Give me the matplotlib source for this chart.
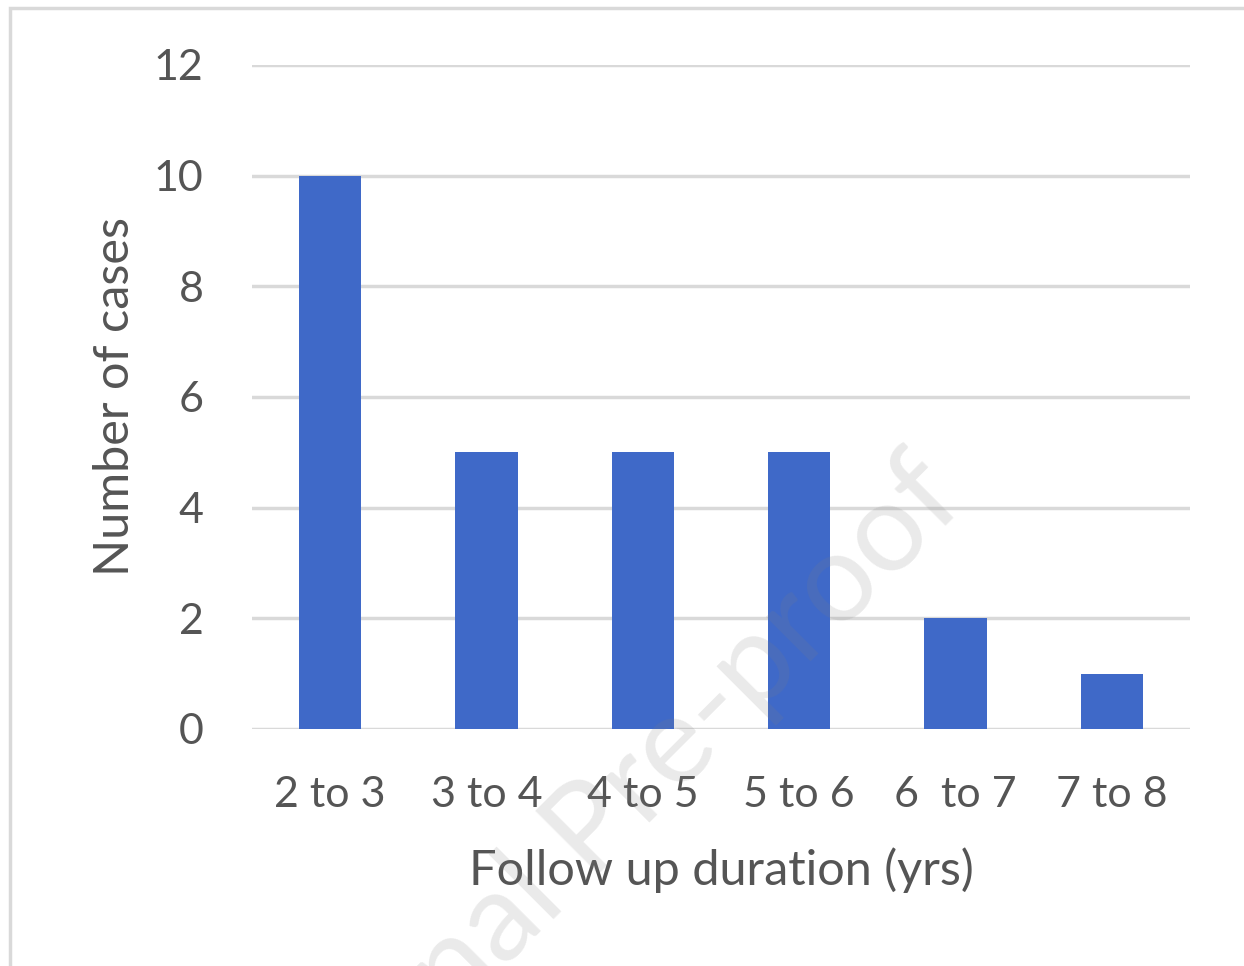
import matplotlib.pyplot as plt
from matplotlib.patches import Rectangle

# dados
categorias = ['2 to 3', '3 to 4', '4 to 5', '5 to 6', '6  to 7', '7 to 8']
casos = [10, 5, 5, 5, 2, 1]
yticks = [0, 2, 4, 6, 8, 10, 12]

plt.rcParams['font.family'] = ['Lato', 'DejaVu Sans']
cinza = '#555555'

fig = plt.figure(figsize=(12.44, 9.66), dpi=100)
ax = fig.add_axes([252/1244, 1-729/966, (1190-252)/1244, (729-65)/966])

x = range(len(categorias))
ax.bar(x, casos, width=0.4, color='#3F69C8', zorder=3)

ax.set_xlim(-0.5, len(categorias)-0.5)
ax.set_ylim(0, 12)
ax.set_yticks(yticks)
ax.set_xticks(list(x))
ax.set_xticklabels(categorias)
ax.grid(axis='y', color='#d9d9d9', linewidth=2.5, zorder=0)
ax.tick_params(length=0, labelsize=31, colors=cinza)
ax.tick_params(axis='x', pad=34)
ax.tick_params(axis='y', pad=35)
for s in ax.spines.values():
    s.set_visible(False)

ax.set_xlabel('Follow up duration (yrs)', fontsize=35, color=cinza, labelpad=24)
ax.set_ylabel('Number of cases', fontsize=35, color=cinza, labelpad=12)

# marca d'agua
fig.text(0.484, 0.15, 'Journal Pre-proof', fontsize=90, color='#808080', alpha=0.17,
         rotation=45, ha='center', va='center', zorder=10)

# moldura
fig.patches.append(Rectangle((10/1244, -0.1), 1.2, 1-8/966+0.1, transform=fig.transFigure,
                             fill=False, edgecolor='#d9d9d9', linewidth=2.5))

fig.savefig('out.png', dpi=100)
